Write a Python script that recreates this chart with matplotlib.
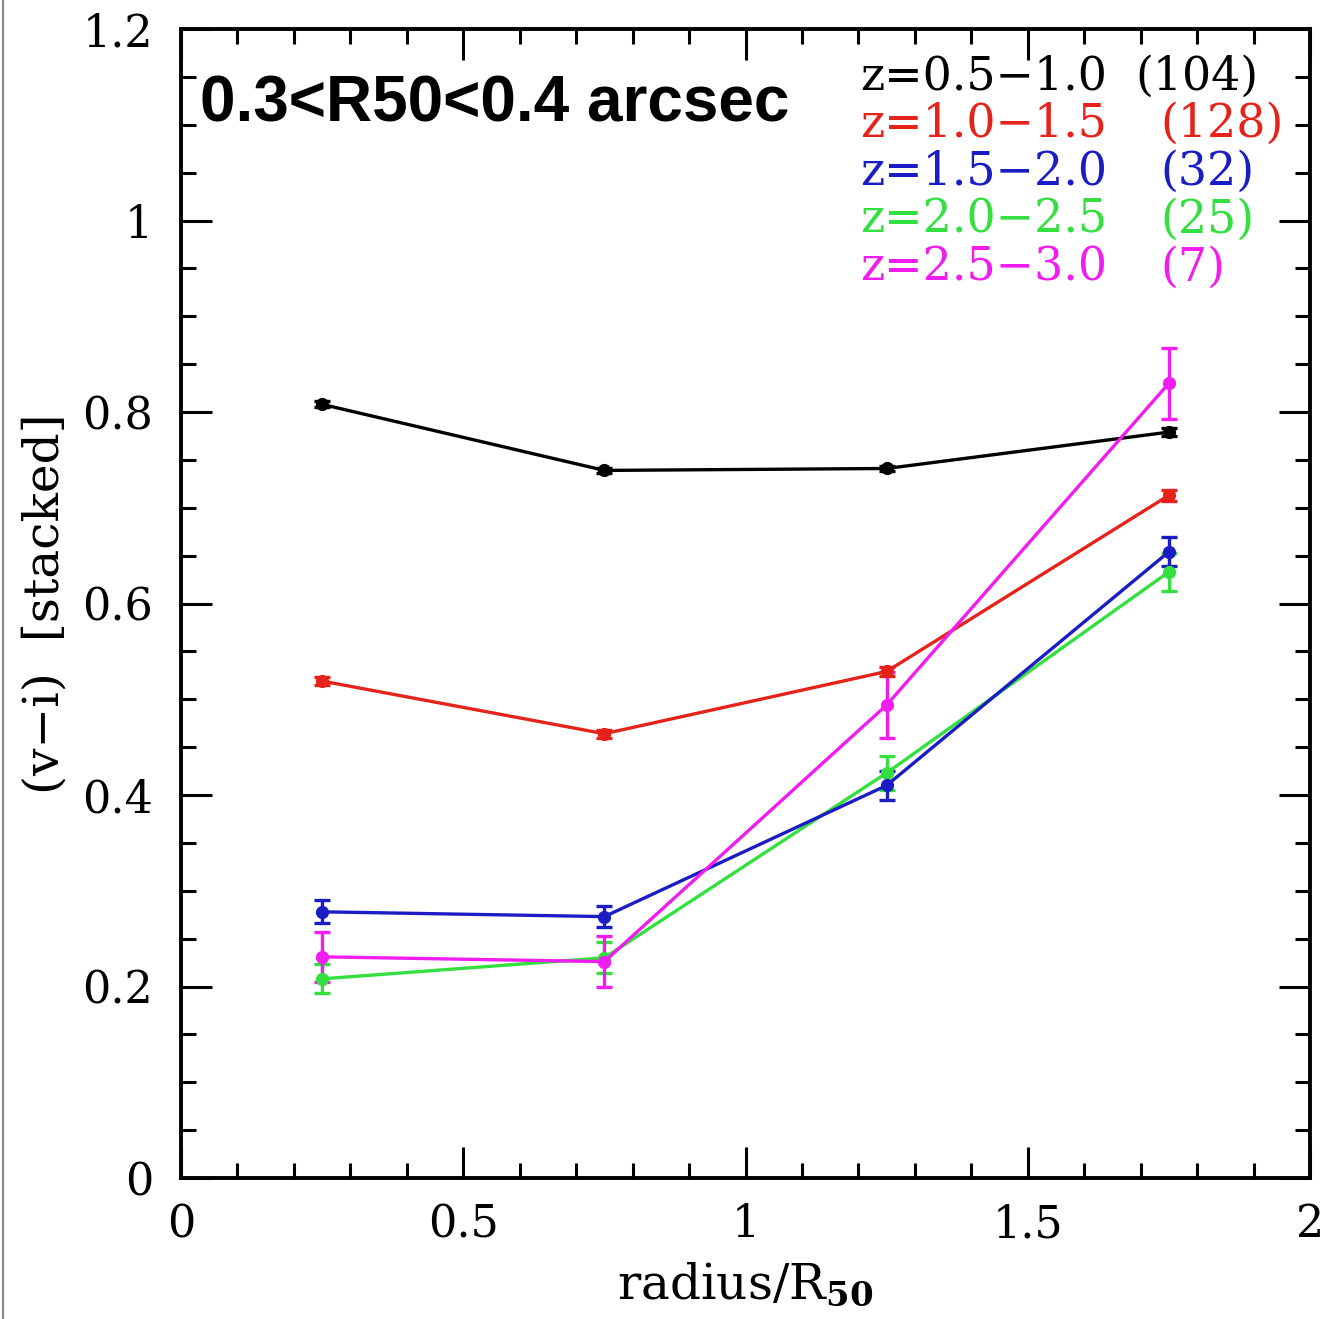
import matplotlib
matplotlib.use("Agg")
import matplotlib.pyplot as plt
from matplotlib.lines import Line2D
from matplotlib.ticker import MultipleLocator

# ---- data ----
radius = [0.25, 0.75, 1.25, 1.75]

z05_10 = [0.808, 0.739, 0.741, 0.779]
z05_10_err = [0.003, 0.003, 0.003, 0.004]

z10_15 = [0.519, 0.464, 0.529, 0.713]
z10_15_err = [0.004, 0.004, 0.005, 0.006]

z15_20 = [0.278, 0.273, 0.410, 0.654]
z15_20_err = [0.012, 0.011, 0.015, 0.015]

z20_25 = [0.208, 0.230, 0.423, 0.633]
z20_25_err = [0.015, 0.016, 0.018, 0.020]

z25_30 = [0.231, 0.226, 0.494, 0.830]
z25_30_err = [0.026, 0.027, 0.034, 0.037]

series_labels = ["z=0.5\u22121.0", "z=1.0\u22121.5", "z=1.5\u22122.0", "z=2.0\u22122.5", "z=2.5\u22123.0"]
series_counts = ["(104)", "(128)", "(32)", "(25)", "(7)"]
series_colors = ["black", "#e5231b", "#1c1cc4", "#33e040", "#f01cf0"]

xticks = [0, 0.5, 1, 1.5, 2]
xticklabels = ["0", "0.5", "1", "1.5", "2"]
yticks = [0, 0.2, 0.4, 0.6, 0.8, 1.0, 1.2]
yticklabels = ["0", "0.2", "0.4", "0.6", "0.8", "1", "1.2"]

panel_title = "0.3<R50<0.4 arcsec"

# ---- figure ----
plt.rcParams['font.family'] = ['DejaVu Serif']
plt.rcParams['mathtext.fontset'] = 'dejavuserif'

fig = plt.figure(figsize=(13.25, 13.19), dpi=100)
ax = fig.add_axes([181/1325, 1 - 1178/1319, (1310-181)/1325, (1178-29)/1319])

ys = [z05_10, z10_15, z15_20, z20_25, z25_30]
es = [z05_10_err, z10_15_err, z15_20_err, z20_25_err, z25_30_err]
order = [0, 1, 3, 2, 4]
for i in order:
    ax.errorbar(radius, ys[i], yerr=es[i], color=series_colors[i], lw=2.4,
                marker='o', ms=8.5, capsize=5.5, capthick=2.4, elinewidth=2.4)

ax.set_xlim(0, 2)
ax.set_ylim(0, 1.2)
ax.set_xticks(xticks)
ax.set_xticklabels(xticklabels)
ax.set_yticks(yticks)
ax.set_yticklabels(yticklabels)
ax.xaxis.set_minor_locator(MultipleLocator(0.1))
ax.yaxis.set_minor_locator(MultipleLocator(0.05))
ax.tick_params(which='both', direction='in', top=True, right=True, width=2.2)
ax.tick_params(which='major', length=22)
ax.tick_params(which='minor', length=11)
ax.tick_params(axis='y', which='major', pad=20, labelsize=32)
ax.tick_params(axis='x', which='major', pad=18, labelsize=32)
for s in ax.spines.values():
    s.set_linewidth(2.8)

ax.set_xlabel(r"radius/R$_{\mathbf{50}}$", fontsize=35)
ax.xaxis.set_label_coords(0.5, -0.072)
ax.set_ylabel("(v\u2212i)  [stacked]", fontsize=35)
ax.yaxis.set_label_coords(-0.10, 0.5)

ax.text(0.0168, 0.934, panel_title, transform=ax.transAxes, ha='left', va='center',
        fontsize=46, fontweight='bold', family=['Liberation Sans'])

row_y = [77, 124, 172, 220, 268]
count_x = [1135, 1160, 1160, 1160, 1160]
for i in range(5):
    yy = (1178 - row_y[i]) / 1149
    ax.text((860-181)/1129, yy, series_labels[i], transform=ax.transAxes,
            ha='left', va='center', fontsize=33, color=series_colors[i])
    ax.text((count_x[i]-181)/1129, yy, series_counts[i], transform=ax.transAxes,
            ha='left', va='center', fontsize=33, color=series_colors[i])

fig.add_artist(Line2D([0.002, 0.002], [0, 1], transform=fig.transFigure, color='#888888', lw=1.5))

fig.savefig("out.png", dpi=100)
